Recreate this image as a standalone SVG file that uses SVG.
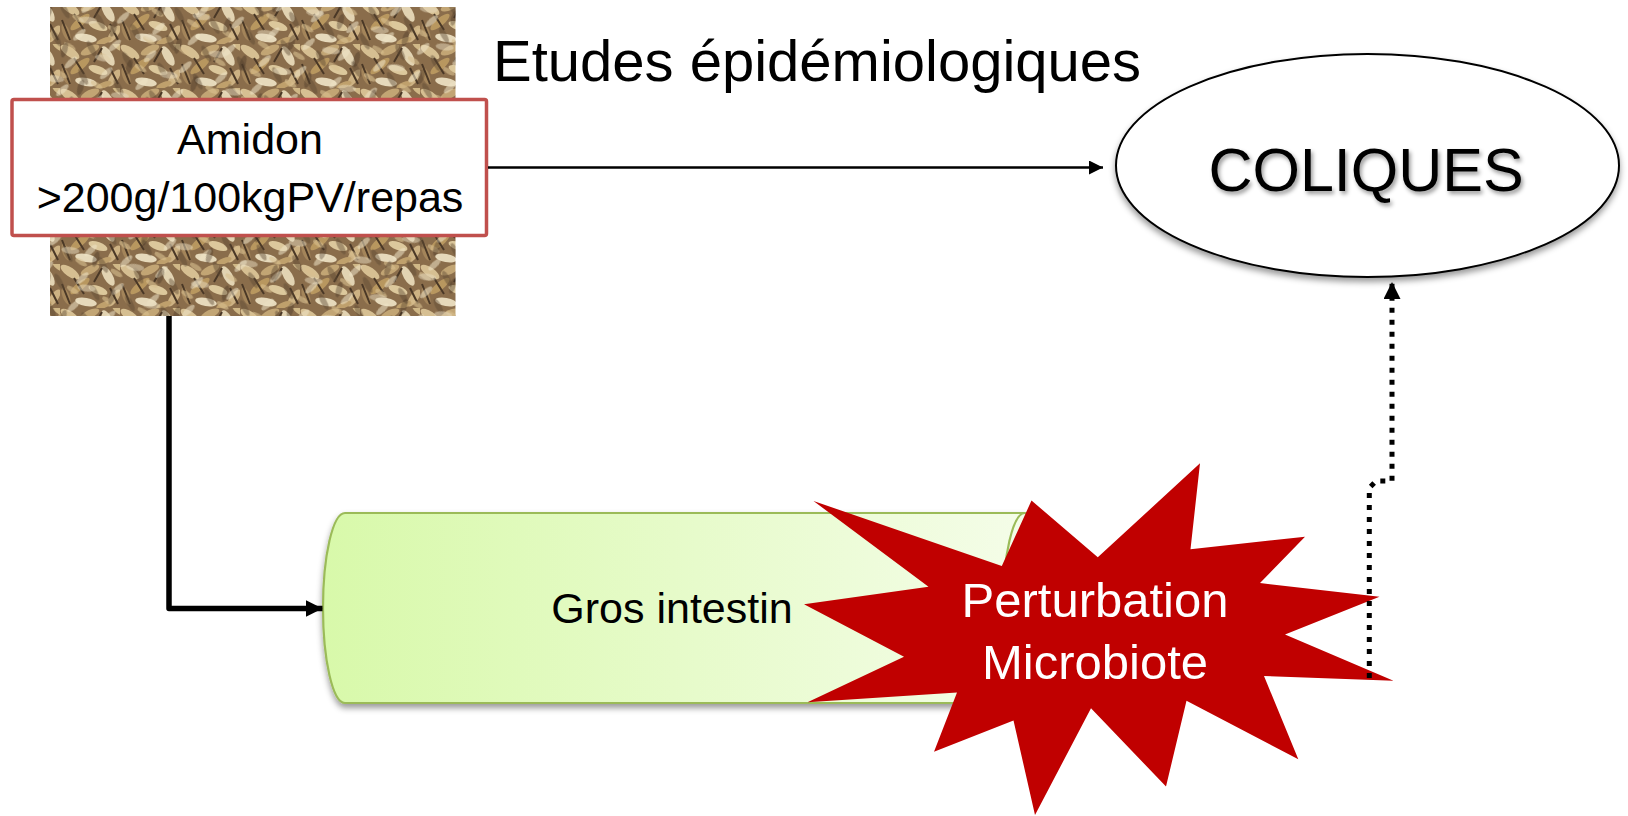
<svg xmlns="http://www.w3.org/2000/svg" width="1628" height="816" viewBox="0 0 1628 816">
<style>
.t{font-family:"Liberation Sans",Arial,sans-serif;fill:#000}
.w{font-family:"Liberation Sans",Arial,sans-serif;fill:#fff}
.conn{fill:none;stroke:#000}
</style>
<defs>
<pattern id="grainA" width="60" height="44" patternUnits="userSpaceOnUse">
<rect width="60" height="44" fill="#8a6d4b"/>
<ellipse cx="10" cy="8" rx="11" ry="4.5" transform="rotate(35 10 8)" fill="#d6bf92"/>
<ellipse cx="30" cy="6" rx="10" ry="4" transform="rotate(-25 30 6)" fill="#c2a574"/>
<ellipse cx="48" cy="12" rx="11" ry="4.5" transform="rotate(60 48 12)" fill="#e2d3b2"/>
<ellipse cx="20" cy="22" rx="12" ry="4" transform="rotate(-40 20 22)" fill="#b8975f"/>
<ellipse cx="38" cy="26" rx="10" ry="4" transform="rotate(20 38 26)" fill="#dcc89c"/>
<ellipse cx="6" cy="32" rx="9" ry="3.5" transform="rotate(70 6 32)" fill="#a4855a"/>
<ellipse cx="54" cy="34" rx="10" ry="4" transform="rotate(-55 54 34)" fill="#cdb283"/>
<ellipse cx="26" cy="38" rx="11" ry="4" transform="rotate(10 26 38)" fill="#e6d9bb"/>
<ellipse cx="44" cy="41" rx="8" ry="3" transform="rotate(-20 44 41)" fill="#bfa06c"/>
<ellipse cx="58" cy="2" rx="7" ry="3" transform="rotate(40 58 2)" fill="#d0b887"/>
<path d="M14 14 L24 30 M42 4 L34 18 M50 24 L58 40 M2 20 L10 40" stroke="#4a3826" stroke-width="2"/>
</pattern>
<pattern id="grainB" width="37" height="29" patternUnits="userSpaceOnUse" patternTransform="rotate(17)">
<ellipse cx="12" cy="10" rx="8" ry="3" transform="rotate(-60 12 10)" fill="#efe3c6" opacity="0.55"/>
<ellipse cx="28" cy="20" rx="9" ry="3" transform="rotate(45 28 20)" fill="#5e4a33" opacity="0.45"/>
<ellipse cx="6" cy="24" rx="7" ry="2.5" transform="rotate(15 6 24)" fill="#d9c090" opacity="0.6"/>
</pattern>
<pattern id="grainC" width="53" height="41" patternUnits="userSpaceOnUse" patternTransform="rotate(-23)">
<ellipse cx="20" cy="12" rx="9" ry="3.5" transform="rotate(30 20 12)" fill="#e8dcc0" opacity="0.5"/>
<ellipse cx="40" cy="30" rx="8" ry="3" transform="rotate(-50 40 30)" fill="#3f2f20" opacity="0.35"/>
</pattern>
<linearGradient id="cyl" x1="0" y1="0" x2="1" y2="0">
<stop offset="0" stop-color="#d8f9aa"/>
<stop offset="1" stop-color="#f5fdea"/>
</linearGradient>
<filter id="shadow" x="-10%" y="-10%" width="120%" height="130%">
<feDropShadow dx="0" dy="4" stdDeviation="3" flood-color="#000" flood-opacity="0.4"/>
</filter>
<filter id="tshadow" x="-10%" y="-20%" width="120%" height="150%">
<feDropShadow dx="2" dy="3" stdDeviation="2" flood-color="#000" flood-opacity="0.4"/>
</filter>
<marker id="arr" viewBox="0 0 10 10" refX="10" refY="5" markerWidth="15" markerHeight="14" markerUnits="userSpaceOnUse" orient="auto">
<path d="M0,0 L10,5 L0,10 Z" fill="#000"/>
</marker>
<marker id="arrBig" viewBox="0 0 10 10" refX="10" refY="5" markerWidth="17" markerHeight="17" markerUnits="userSpaceOnUse" orient="auto">
<path d="M0,0 L10,5 L0,10 Z" fill="#000"/>
</marker>
</defs>
<rect width="1628" height="816" fill="#fff"/>

<g id="grain-image">
<rect x="50" y="7" width="405.5" height="309" fill="url(#grainA)"/>
<rect x="50" y="7" width="405.5" height="309" fill="url(#grainB)"/>
<rect x="50" y="7" width="405.5" height="309" fill="url(#grainC)"/>
</g>

<g id="amidon">
<rect x="12" y="99.5" width="474.5" height="136" rx="2" fill="#fff" stroke="#c0504d" stroke-width="3.5"/>
<text class="t" x="250" y="154" font-size="43" text-anchor="middle">Amidon</text>
<text class="t" x="250" y="212" font-size="43" text-anchor="middle">&gt;200g/100kgPV/repas</text>
</g>

<g id="title">
<text class="t" x="493" y="81" font-size="58">Etudes épidémiologiques</text>
</g>

<g id="coliques">
<ellipse cx="1367.5" cy="165.5" rx="251.5" ry="111.5" fill="#fff" stroke="#000" stroke-width="2" filter="url(#shadow)"/>
<text class="t" x="1366" y="191" font-size="61" text-anchor="middle" filter="url(#tshadow)">COLIQUES</text>
</g>

<g id="gros-intestin">
<path d="M345,513 H1025 A22,95 0 0 1 1025,703 H345 A22,95 0 0 1 345,513 Z" fill="url(#cyl)" stroke="#9bbb59" stroke-width="2.2" filter="url(#shadow)"/>
<path d="M1025,513 A22,95 0 0 0 1025,703" fill="none" stroke="#9bbb59" stroke-width="2.2"/>
<text class="t" x="672" y="623" font-size="43" text-anchor="middle">Gros intestin</text>
</g>

<g id="perturbation">
<polygon fill="#c00000" points="813.5,501 1001.8,566 1031.5,500.5 1097.8,557.3 1200,463.3 1190.5,549.3 1305,536.7 1260,583 1379.5,596.7 1285,634.5 1393.5,680.7 1264,676 1298.3,759.3 1186.5,700.8 1166,786.5 1091,708.3 1035,815 1013.5,720.5 934,751.7 957,692.5 807.5,702.3 904,656.7 804,604.3 928.5,586.7"/>
<text class="w" x="1095" y="617" font-size="49" text-anchor="middle">Perturbation</text>
<text class="w" x="1095" y="679" font-size="49" text-anchor="middle">Microbiote</text>
</g>

<g id="connectors">
<path class="conn" d="M488,167.5 H1103" stroke-width="2.5" marker-end="url(#arr)"/>
<path class="conn" d="M169,316 V608.5 H322.5" stroke-width="5.5" stroke-linejoin="round" marker-end="url(#arrBig)"/>
<path class="conn" d="M1369.3,678 V488 L1376,481 H1392 V282" stroke-width="5" stroke-dasharray="5 7" marker-end="url(#arrBig)"/>
</g>
</svg>
